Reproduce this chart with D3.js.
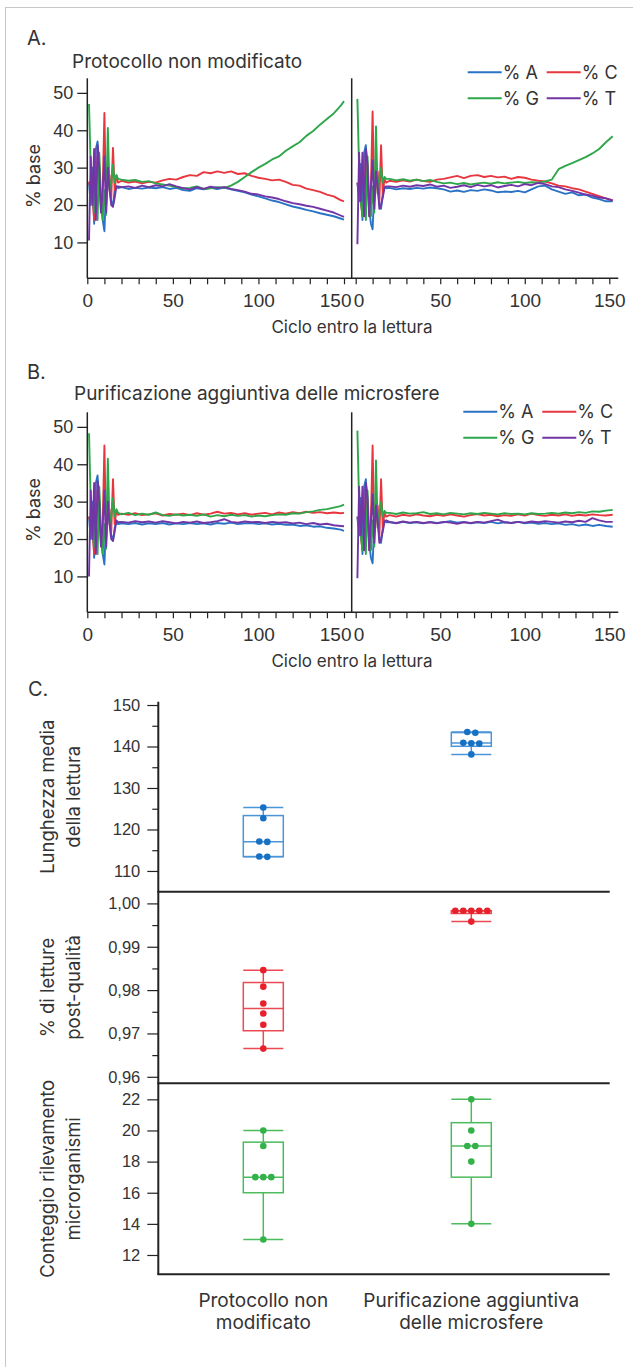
<!DOCTYPE html>
<html>
<head>
<meta charset="utf-8">
<script src="https://cdn.jsdelivr.net/npm/d3@7"></script>
<style>
  body { margin: 0; background: #fff; }
  svg { display: block; font-family: Inter, "Noto Sans", sans-serif; }
  text { fill: #333; }
</style>
</head>
<body>
<svg id="chart" width="633" height="1367"></svg>
<script>
// ---- data: base composition per cycle ----
const bases = ["% A", "% C", "% G", "% T"];
const cyclesLeft = [1,2,3,4,5,6,7,8,9,10,11,12,13,14,15,16,17,18,20,24,28,32,36,40,44,48,52,56,60,64,68,72,76,80,84,88,92,96,100,104,108,112,116,120,124,128,132,136,140,144,148,150];
const cyclesRight = [1,2,3,4,5,6,7,8,9,10,11,12,13,14,15,16,17,18,20,24,28,32,36,40,44,48,52,56,60,64,68,72,76,80,84,88,92,96,100,104,108,112,116,120,124,128,132,136,140,144,148,152];

const protoLeftA = [26,20,30,15,35,37,30,20,16,13,25,32,25,21,20,24,25,24.5, 24.8,24.3,24.6,24.4,24.7,24.5,24.8,24.3,24.6,24.0, 23.8,24.5,24.2,24.6,24.3,24.7,24.2,23.8,23.4,22.8, 22.3,21.8,21.2,20.8,20.2,19.6,19.2,18.7,18.3,17.8, 17.4,17.0,16.4,16.1];
const protoLeftC = [26.3,24,22,16,20,33,28,18,24,44.6,20,26,28,22,35.3,24,28,26, 26.5,26.0,26.3,25.8,26.2,26.0,26.6,27.0,26.8,27.5, 28.0,27.8,28.8,28.5,29.0,28.6,29.0,28.3,28.5,27.8, 27.3,27.0,26.6,26.8,26.2,25.4,25.2,24.4,24.0,23.5, 22.8,22.3,21.3,21.0];
const protoLeftG = [47,30,22,18,24,16,34,22,16,24,17.4,40.6,24,26,30.8,26,28,27, 26.8,26.5,26.7,26.2,26.4,25.8,25.5,25.2,24.8,24.5, 24.6,25.0,24.3,24.5,24.8,24.6,25.2,26.2,27.5,28.8, 30.0,31.0,32.2,33.0,34.5,35.7,36.8,38.5,39.8,41.5, 43.0,44.5,46.5,47.8];
const protoLeftT = [10.5,33,20,35,16,36,30,18,24,33,18,30,24,20,19.5,22,25,25, 24.8,25.0,24.6,25.2,24.8,25.3,25.0,25.6,25.0,24.5, 24.2,24.8,24.3,24.9,24.6,24.8,24.3,24.0,23.6,23.0, 22.8,22.3,22.0,21.6,21.0,20.5,20.2,19.8,19.5,19.0, 18.5,18.0,17.2,16.8];

const protoRightA = [26,21,31,16,34,36,29,19,15,13.5,24,31,26,20,19,23,25,24.5, 24.6,24.2,24.5,24.3,24.6,24.4,24.7,24.5,24.2,23.6, 23.9,23.5,24.0,23.8,24.2,23.9,23.4,23.6,23.5,23.8, 23.4,24.2,25.0,25.2,24.2,23.6,23.0,23.4,22.6,22.8, 22.0,21.6,21.0,21.0];
const protoRightC = [26,23,21,17,21,34,27,17,25,45,21,25,29,21,36,23,27,26, 26.5,26.2,26.6,26.3,26.8,26.4,26.2,26.8,27.0,27.4, 27.8,27.2,27.8,28.0,27.5,27.8,27.4,27.6,27.0,27.5, 27.3,26.8,26.5,26.3,25.8,25.2,25.0,24.5,24.2,23.6, 23.0,22.4,21.8,21.3];
const protoRightG = [48.4,30,21,17,25,16,33,21,17,25,18,41,23,27,30,26,27.5,27, 27.0,26.6,26.9,26.5,26.8,26.4,26.7,26.2,25.8,26.0, 25.6,25.9,25.5,25.8,26.0,25.7,26.1,25.8,26.0,26.2, 25.9,26.1,26.0,26.3,26.8,29.6,30.5,31.2,32.0,32.8, 33.8,35.0,36.8,38.4];
const protoRightT = [9.5,34,21,34,17,35,31,17,25,32,19,29,25,19,20,22,24.5,25, 25.0,24.8,25.2,24.9,25.3,25.1,25.5,24.9,25.2,24.6, 24.9,25.3,24.8,25.4,25.0,25.3,24.7,25.1,25.4,25.0, 25.6,25.3,25.9,25.6,25.0,24.8,24.2,23.8,23.3,22.8, 22.5,22.0,21.8,21.2];

const beadLeftA = [26,20,30,15,35,37,30,20,16,13.2,25,32,25,21,19.5,23,24.5,24, 24.2,24.0,24.3,23.9,24.2,24.0,24.3,23.9,24.2,24.0, 24.3,24.0,24.2,23.9,24.3,24.1,24.4,24.0,24.2,24.3, 24.0,24.2,23.9,24.1,23.8,23.9,23.5,23.7,23.3,23.4, 23.0,22.8,22.5,22.2];
const beadLeftC = [26,24,22,16,20,33,28,18,24,45,20,26,28,22,36,24,27.5,26.5, 26.8,26.5,26.9,26.4,26.6,26.9,26.3,26.7,26.5,26.8, 26.4,26.9,26.5,26.8,27.3,26.8,27.0,26.6,26.9,26.5, 26.8,27.0,26.6,27.1,26.8,27.2,26.9,27.3,27.0,27.2, 26.9,27.1,26.9,27.0];
const beadLeftG = [48.3,30,22,18,24,16,34,22,16,24,17.4,41.5,24,26,31,26,28,27, 26.6,27.0,26.4,26.8,26.5,27.1,26.4,26.2,26.6,26.3, 26.5,26.2,26.6,26.0,26.4,26.1,26.5,26.2,26.4,26.0, 26.3,26.1,26.4,26.6,26.5,26.9,26.8,27.2,27.4,27.8, 28.0,28.4,28.8,29.2];
const beadLeftT = [10,33,20,35,16,35.5,30,18,24,33,18,30,24,20,19.5,22,25,24.5, 24.6,24.4,24.8,24.5,24.7,24.4,24.8,24.5,24.2,24.6, 24.4,24.7,24.3,24.5,24.8,25.3,24.6,24.4,24.7,24.5, 24.6,24.3,24.6,24.4,24.5,24.2,24.4,24.0,24.3,23.9, 24.1,23.7,23.5,23.4];

const beadRightA = [26,21,31,16,34,36,29,19,15,13.5,24,31,26,20,19,23,25,24.5, 24.5,24.2,24.6,24.3,24.5,24.2,24.6,24.3,24.5,24.8, 24.4,24.6,24.2,24.5,24.3,24.6,24.2,24.5,24.3,24.6, 24.2,24.4,24.1,24.3,24.0,24.2,23.8,24.0,23.6,23.9, 23.5,23.8,23.5,23.3];
const beadRightC = [26,23,21,17,21,34,27,17,25,45,21,25,29,21,36,23,27,26, 26.4,26.0,26.5,26.2,26.6,26.3,26.1,26.5,26.2,26.6, 26.3,26.0,26.4,26.7,26.3,26.5,26.1,26.4,26.2,26.6, 26.3,26.8,26.4,26.2,26.5,26.3,26.6,26.2,26.5,26.3, 26.6,26.4,26.3,26.5];
const beadRightG = [49,30,21,17,25,16,33,21,17,25,18,41,23,27,30,26,27.5,27, 27.0,26.7,27.1,26.8,26.9,27.2,26.7,26.9,26.6,27.0, 26.8,26.6,26.9,26.7,27.0,26.8,26.6,26.9,26.7,26.8, 26.6,26.9,26.7,26.8,27.0,26.8,27.1,26.9,27.2,27.0, 27.4,27.3,27.6,27.8];
const beadRightT = [9.5,34,21,34,17,35,31,17,25,32,19,29,25,19,20,22,24.5,25, 24.6,24.3,24.7,24.4,24.6,24.3,24.5,24.2,24.6,24.4, 24.1,24.5,24.3,24.6,24.4,24.8,25.2,24.5,24.3,24.6, 24.4,24.7,24.5,24.8,24.6,24.4,24.7,24.5,24.9,24.6, 25.6,25.0,24.6,24.6];

// ---- data: panel C, one value per run ----
const groups = ["Protocollo non modificato", "Purificazione aggiuntiva delle microsfere"];
const groupLines = [["Protocollo non", "modificato"], ["Purificazione aggiuntiva", "delle microsfere"]];
const lengthProto = [125.3, 122.7, 117.1, 117.0, 113.5, 113.4];
const lengthBeads = [143.5, 143.3, 140.9, 140.8, 140.7, 138.1];
const qualityProto = [0.9846, 0.9808, 0.9769, 0.9746, 0.9720, 0.9665];
const qualityBeads = [0.9983, 0.9983, 0.9983, 0.9983, 0.9983, 0.9958];
const countProto = [20, 19, 17, 17, 17, 13];
const countBeads = [22, 20, 19, 19, 18, 14];

const baseColor = d3.scaleOrdinal().domain(bases).range(["#2a73c4", "#e8363f", "#2ea64a", "#7235a5"]);
const itFormat = d3.formatLocale({decimal: ",", thousands: ".", grouping: [3], currency: ["", " €"]}).format(".2f");

const svg = d3.select("#chart");

// light frame round the figure
svg.append("rect")
  .attr("x", 5.5).attr("y", 7.5)
  .attr("width", 700).attr("height", 1400)
  .attr("fill", "none").attr("stroke", "#c8c8c8");

// ---- panels A and B ----
const linePanel = (o) => {
  const g = svg.append("g").attr("transform", `translate(0, ${o.dy})`);
  const top = 78.3, bottom = 278.3;
  const y = d3.scaleLinear().domain([0.4, 53.9]).range([bottom, top]);
  const xL = d3.scaleLinear().domain([0, 150]).range([87.3, 344]);
  const xR = d3.scaleLinear().domain([0, 150]).range([355.7, 609.3]);

  g.append("text").attr("x", 27).attr("y", o.letterY)
    .style("font-size", "20px").text(o.letter);
  g.append("text").attr("x", o.titleX).attr("y", o.titleY)
    .style("font-size", "19px").text(o.title);

  // y axis
  const ya = g.append("g").attr("transform", `translate(${xL(0)},0)`)
    .call(d3.axisLeft(y).tickValues([10, 20, 30, 40, 50]).tickSize(10).tickPadding(4));
  ya.select(".domain").remove();
  ya.selectAll("text").style("font-size", "18px").attr("fill", "#333");
  ya.selectAll("line").attr("stroke", "#222").attr("stroke-width", 1.3);

  [xL, xR].forEach((x, side) => {
    const xa = g.append("g").attr("transform", `translate(0,${bottom})`)
      .call(d3.axisBottom(x).tickValues(d3.range(0, 151, 10))
        .tickFormat(d => d % 50 === 0 ? d : "").tickSize(6));
    xa.select(".domain").remove();
    xa.selectAll("text").style("font-size", "19px").attr("y", 29).attr("dy", 0).attr("fill", "#333");
    xa.selectAll("line").attr("stroke", "#222").attr("stroke-width", 1.2);
    // the two reads meet at the divider: keep "150" and "0" apart
    if (side === 0) xa.selectAll("text").filter(d => d === 150).attr("text-anchor", "end").attr("x", 7);
    if (side === 1) xa.selectAll("text").filter(d => d === 0).attr("text-anchor", "start").attr("x", -2.5);
  });

  // frame lines: baseline, left axis, divider between reads
  g.append("line").attr("x1", xL(0)).attr("x2", 618.3).attr("y1", bottom).attr("y2", bottom)
    .attr("stroke", "#222").attr("stroke-width", 1.5);
  [xL(0), 351.7].forEach(xx => {
    g.append("line").attr("x1", xx).attr("x2", xx).attr("y1", top).attr("y2", bottom)
      .attr("stroke", "#222").attr("stroke-width", 1.5);
  });

  g.append("text")
    .attr("transform", `translate(40, 176) rotate(-90)`)
    .attr("text-anchor", "middle").style("font-size", "18px").text("% base");
  g.append("text").attr("x", 352).attr("y", 333)
    .attr("text-anchor", "middle").style("font-size", "17px").text("Ciclo entro la lettura");

  const draw = (x, cycles, series) => {
    const line = d3.line().x(d => x(d[0])).y(d => y(d[1]));
    g.append("g").selectAll("path")
      .data(series)
      .join("path")
      .attr("d", (s) => line(d3.zip(cycles, s.values)))
      .attr("fill", "none")
      .attr("stroke", (s) => baseColor(s.key))
      .attr("stroke-width", 1.9)
      .attr("stroke-linejoin", "round");
  };
  draw(xL, cyclesLeft, bases.map((k, i) => ({key: k, values: o.left[i]})));
  draw(xR, cyclesRight, bases.map((k, i) => ({key: k, values: o.right[i]})));

  // legend
  const leg = g.append("g").selectAll("g")
    .data(bases)
    .join("g")
    .attr("transform", (d, i) => `translate(${o.legX + (i % 2) * 79}, ${o.legY + Math.floor(i / 2) * 26})`);
  leg.append("line").attr("x1", 0).attr("x2", 34).attr("y1", 0).attr("y2", 0)
    .attr("stroke", d => baseColor(d)).attr("stroke-width", 2);
  leg.append("text").attr("x", 35).attr("y", 6.5).style("font-size", "18px").text(d => d);
};

linePanel({
  dy: 0, letter: "A.", letterY: 45, title: "Protocollo non modificato", titleX: 72, titleY: 68,
  legX: 467.7, legY: 72.3,
  left: [protoLeftA, protoLeftC, protoLeftG, protoLeftT],
  right: [protoRightA, protoRightC, protoRightG, protoRightT]
});
linePanel({
  dy: 334, letter: "B.", letterY: 45, title: "Purificazione aggiuntiva delle microsfere", titleX: 74, titleY: 66,
  legX: 463.3, legY: 77.7,
  left: [beadLeftA, beadLeftC, beadLeftG, beadLeftT],
  right: [beadRightA, beadRightC, beadRightG, beadRightT]
});

// ---- panel C ----
svg.append("text").attr("x", 28).attr("y", 696).style("font-size", "20px").text("C.");

const axisX = 158.3, rightEdge = 609.7;
const cx = d3.scalePoint().domain(groups).range([263.3, 471.3]);

// quantile with (n+1)p positions
const quant = (sorted, p) => {
  const h = (sorted.length + 1) * p - 1;
  const lo = Math.max(0, Math.min(sorted.length - 1, Math.floor(h)));
  const hi = Math.min(sorted.length - 1, lo + 1);
  return sorted[lo] + (h - Math.floor(h)) * (sorted[hi] - sorted[lo]);
};

const subPanels = [
  {title: ["Lunghezza media", "della lettura"], domain: [105, 150.8], range: [891.7, 701.7],
   ticks: [110, 120, 130, 140, 150], minor: [115, 125, 135, 145], fmt: d3.format("d"),
   data: [lengthProto, lengthBeads], dot: "#1670c4", box: "#4c94d8"},
  {title: ["% di letture", "post-qualità"], domain: [0.9585, 1.0027], range: [1083.3, 891.7],
   ticks: [0.96, 0.97, 0.98, 0.99, 1.00], minor: [0.965, 0.975, 0.985, 0.995], fmt: itFormat,
   data: [qualityProto, qualityBeads], dot: "#e8202b", box: "#ec4a52"},
  {title: ["Conteggio rilevamento", "microrganismi"], domain: [10.76, 23.03], range: [1274.3, 1083.3],
   ticks: [12, 14, 16, 18, 20, 22], minor: [], fmt: d3.format("d"),
   data: [countProto, countBeads], dot: "#33b24a", box: "#4dbb5b"}
];

subPanels.forEach(p => {
  const y = d3.scaleLinear().domain(p.domain).range(p.range);
  const g = svg.append("g");

  const ya = g.append("g").attr("transform", `translate(${axisX},0)`)
    .call(d3.axisLeft(y).tickValues(p.ticks).tickFormat(p.fmt).tickSize(11).tickPadding(7));
  ya.select(".domain").remove();
  ya.selectAll("text").style("font-size", "16.5px").attr("fill", "#333");
  ya.selectAll("line").attr("stroke", "#222").attr("stroke-width", 1.2);
  const ym = g.append("g").attr("transform", `translate(${axisX},0)`)
    .call(d3.axisLeft(y).tickValues(p.minor).tickFormat("").tickSize(6));
  ym.select(".domain").remove();
  ym.selectAll("line").attr("stroke", "#222").attr("stroke-width", 1.2);

  const mid = (p.range[0] + p.range[1]) / 2;
  const t = g.append("text")
    .attr("transform", `translate(0, ${mid}) rotate(-90)`)
    .attr("text-anchor", "middle").style("font-size", "18.5px");
  t.append("tspan").attr("x", 0).attr("y", 54).text(p.title[0]);
  t.append("tspan").attr("x", 0).attr("y", 80).text(p.title[1]);

  p.data.forEach((vals, gi) => {
    const x0 = cx(groups[gi]);
    const s = vals.slice().sort(d3.ascending);
    const q1 = quant(s, 0.25), med = quant(s, 0.5), q3 = quant(s, 0.75);
    const lo = s[0], hi = s[s.length - 1];
    const bw = 40;
    const stroke = (sel) => sel.attr("stroke", p.box).attr("stroke-width", 1.5).attr("fill", "none");

    g.append("line").attr("x1", x0).attr("x2", x0).attr("y1", y(hi)).attr("y2", y(q3)).call(stroke);
    g.append("line").attr("x1", x0).attr("x2", x0).attr("y1", y(q1)).attr("y2", y(lo)).call(stroke);
    [hi, lo].forEach(v => {
      g.append("line").attr("x1", x0 - bw / 2).attr("x2", x0 + bw / 2)
        .attr("y1", y(v)).attr("y2", y(v)).call(stroke);
    });
    g.append("rect").attr("x", x0 - bw / 2).attr("width", bw)
      .attr("y", y(q3)).attr("height", Math.max(1, y(q1) - y(q3))).call(stroke);
    g.append("line").attr("x1", x0 - bw / 2).attr("x2", x0 + bw / 2)
      .attr("y1", y(med)).attr("y2", y(med)).call(stroke);

    // spread dots that sit on the same level
    const rows = [];
    vals.slice().sort(d3.descending).forEach(v => {
      const last = rows[rows.length - 1];
      if (last && Math.abs(y(last[0]) - y(v)) < 4) last.push(v);
      else rows.push([v]);
    });
    const dots = rows.flatMap(r => r.map((v, j) => ({v, dx: (j - (r.length - 1) / 2) * 8})));
    g.append("g").selectAll("circle")
      .data(dots)
      .join("circle")
      .attr("cx", d => x0 + d.dx)
      .attr("cy", d => y(d.v))
      .attr("r", 3.3)
      .attr("fill", p.dot);
  });
});

// C frame: y axis, separators, baseline
svg.append("line").attr("x1", axisX).attr("x2", axisX).attr("y1", 701.7).attr("y2", 1274.3)
  .attr("stroke", "#222").attr("stroke-width", 2);
[891.7, 1083.3, 1274.3].forEach(yy => {
  svg.append("line").attr("x1", axisX - 1).attr("x2", rightEdge).attr("y1", yy).attr("y2", yy)
    .attr("stroke", "#222").attr("stroke-width", 2);
});

// category labels
const catLabels = svg.append("g").selectAll("text")
  .data(groups)
  .join("text")
  .attr("text-anchor", "middle")
  .style("font-size", "19px");
catLabels.each(function (d, i) {
  const el = d3.select(this);
  groupLines[i].forEach((ln, k) => {
    el.append("tspan").attr("x", cx(d)).attr("y", 1306.5 + k * 22.5).text(ln);
  });
});
</script>
</body>
</html>
